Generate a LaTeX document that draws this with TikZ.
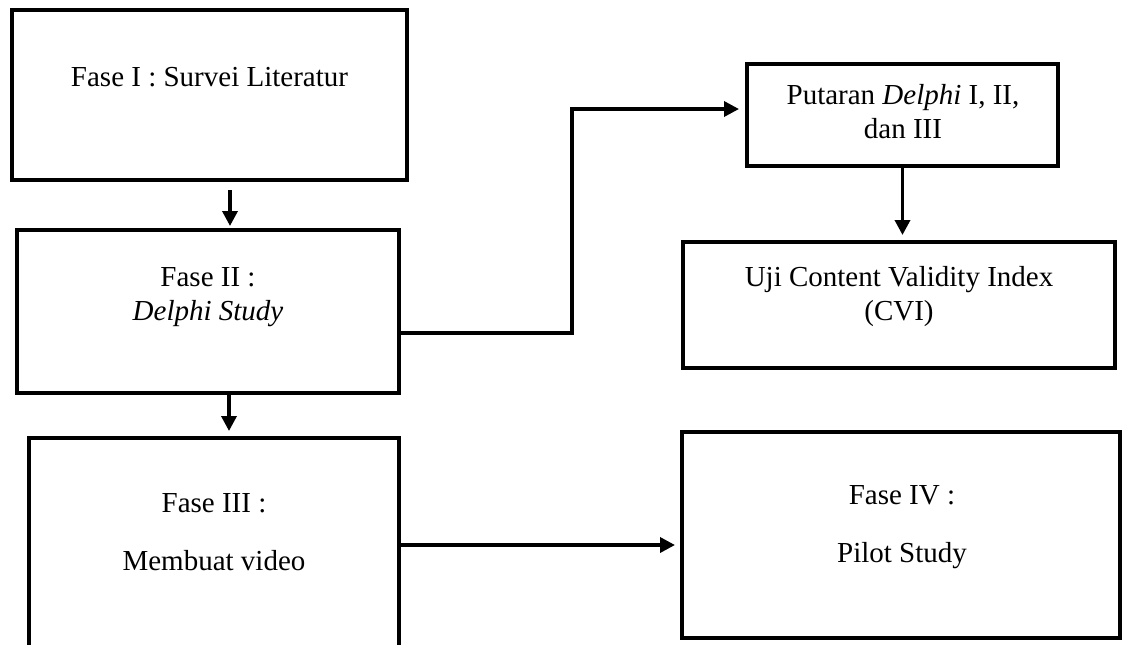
\documentclass[tikz,border=0pt]{standalone}
\usepackage{fontspec}
\setmainfont{Liberation Serif}
\usepackage{tikz}
\usetikzlibrary{arrows.meta, positioning, calc}

\begin{document}
\begin{tikzpicture}[x=1pt, y=-1pt]
        % Styles
        \tikzstyle{phase} = [rectangle, draw=black, line width=4pt, inner sep=0pt]
        \tikzstyle{txt} = [align=center, anchor=base, inner sep=0pt, font=\fontsize{29}{34}\selectfont]
        \tikzstyle{arrow} = [line width=3.5pt, -{Triangle[length=15pt, width=15pt]}]

        \useasboundingbox (0,0) rectangle (1122,645);
        \clip (0,0) rectangle (1122,645);

        % Boxes
        \node (f1) [phase, minimum width=395pt, minimum height=170pt] at (209.5,95) {};
        \node (f2) [phase, minimum width=382pt, minimum height=163pt] at (208,311.5) {};
        \node (f3) [phase, minimum width=370pt, minimum height=242pt] at (214,559) {};
        \node (f4) [phase, minimum width=311pt, minimum height=102pt] at (902.5,115) {};
        \node (f5) [phase, minimum width=432pt, minimum height=126pt] at (899,305) {};
        \node (f6) [phase, minimum width=438pt, minimum height=206pt] at (901,535) {};

        % Texts (anchored on the last line)
        \node (t1) [txt] at (209.5,86) {Fase I : Survei Literatur};
        \node (t2) [txt] at (208,320) {Fase II :\\\textit{Delphi Study}};
        \node (t3) [txt] at (214,570) {Fase III :\\[24pt]Membuat video};
        \node (t4) [txt] at (903,138) {Putaran \textit{Delphi} I, II,\\dan III};
        \node (t5) [txt] at (899,320) {Uji Content Validity Index\\(CVI)};
        \node (t6) [txt] at (902,562) {Fase IV :\\[24pt]Pilot Study};

        % Arrows
        \draw [arrow] ([xshift=20.5pt, yshift=-8pt]f1.south) -- ([xshift=22pt, yshift=2pt]f2.north);
        \draw [arrow] ([xshift=21pt]f2.south) -- ([xshift=15pt, yshift=5pt]f3.north);
        \draw [arrow] ([yshift=-21.5pt]f2.east) -- ++(171,0) |- ([xshift=-6pt, yshift=6pt]f4.west);
        \draw [arrow] (f4.south) -- ([yshift=5pt]f4.south |- f5.north);
        \draw [arrow] ([yshift=14pt]f3.east) -- ++(274,0);

    \end{tikzpicture}
\end{document}
